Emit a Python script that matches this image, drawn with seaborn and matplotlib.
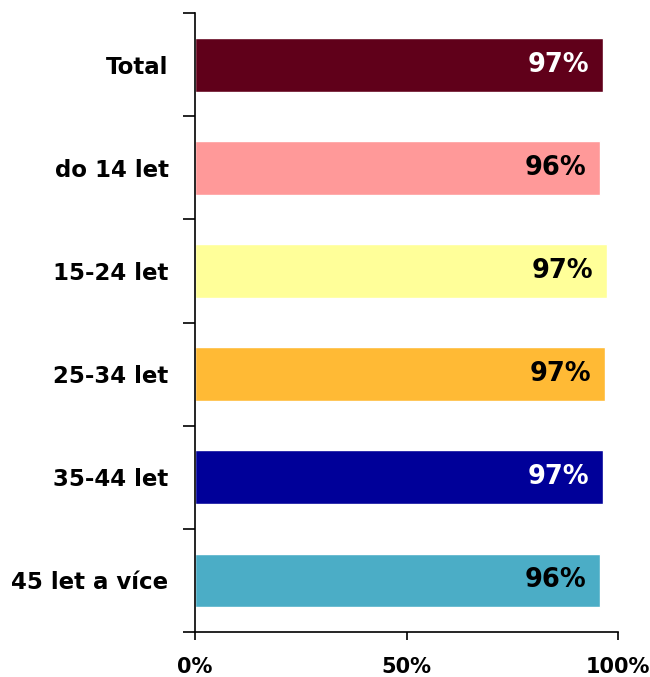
import matplotlib
matplotlib.use("Agg")
import matplotlib.pyplot as plt
import seaborn as sns
import pandas as pd
from matplotlib.ticker import FixedLocator

categories = ["Total", "do 14 let", "15-24 let", "25-34 let", "35-44 let", "45 let a více"]
values = [96.5, 95.8, 97.3, 96.9, 96.5, 95.8]
value_labels = ["97%", "96%", "97%", "97%", "97%", "96%"]
colors = ["#60001A", "#FF9999", "#FFFF99", "#FFBA35", "#000099", "#4BADC6"]
label_colors = ["white", "black", "black", "black", "white", "black"]
x_ticks = [0, 50, 100]
x_tick_labels = ["0%", "50%", "100%"]

sns.set_theme(style="white")
plt.rcParams["font.family"] = ["DejaVu Sans"]

df = pd.DataFrame({"cat": categories, "val": values})

fig = plt.figure(figsize=(6.5, 6.77), dpi=100)
ax = fig.add_axes([0.3, 0.0665, 0.651, 0.914])
sns.barplot(data=df, y="cat", x="val", hue="cat", palette=colors, orient="h",
            width=0.52, dodge=False, legend=False, ax=ax, saturation=1)

ax.set_xlim(0, 100)
ax.set_ylim(len(categories) - 0.5, -0.5)
ax.set_xlabel("")
ax.set_ylabel("")

for i, (v, lab, c) in enumerate(zip(values, value_labels, label_colors)):
    ax.text(v - 3.3, i, lab, ha="right", va="center", color=c,
            fontsize=18.5, fontweight="bold")

ax.set_xticks(x_ticks)
ax.set_xticklabels(x_tick_labels, fontsize=15, fontweight="bold", color="black")
ax.tick_params(axis="x", direction="out", length=6, width=1.2, color="black",
               pad=12, bottom=True)
ax.set_yticks(range(len(categories)))
ax.set_yticklabels(categories, fontsize=16.5, fontweight="bold", color="black")
ax.tick_params(axis="y", which="major", length=0, pad=19)
ax.yaxis.set_minor_locator(FixedLocator([i - 0.5 for i in range(len(categories) + 1)]))
ax.tick_params(axis="y", which="minor", direction="out", length=9, width=1.2,
               color="black", left=True)

for s in ["top", "right"]:
    ax.spines[s].set_visible(False)
for s in ["left", "bottom"]:
    ax.spines[s].set_visible(True)
    ax.spines[s].set_color("black")
    ax.spines[s].set_linewidth(1.2)

fig.savefig("out.png", dpi=100, facecolor="white")
